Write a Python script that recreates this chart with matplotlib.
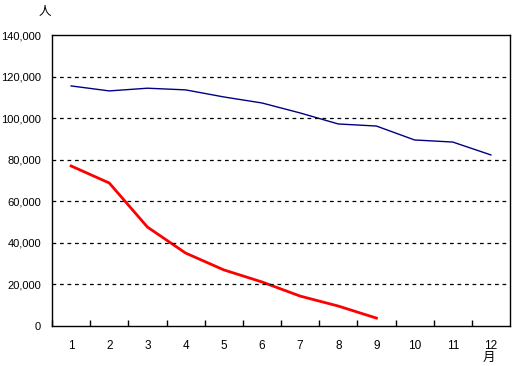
import matplotlib
matplotlib.use("Agg")
import matplotlib.pyplot as plt
import numpy as np

plt.rcParams['font.family'] = ['Noto Sans CJK JP', 'DejaVu Sans']

months = [1, 2, 3, 4, 5, 6, 7, 8, 9, 10, 11, 12]
blue_vals = [115500, 113100, 114400, 113600, 110200, 107300, 102500, 97200, 96200, 89500, 88500, 82300]
red_months = [1, 2, 3, 4, 5, 6, 7, 8, 9]
red_vals = [77000, 68800, 47600, 35100, 27000, 21200, 14400, 9600, 3800]
yticks = [0, 20000, 40000, 60000, 80000, 100000, 120000, 140000]

fig = plt.figure(figsize=(5.12, 3.66), dpi=100)
ax = fig.add_axes([52/512, 1-326/366, 458/512, 291/366])

ax.plot(months, blue_vals, color='#000080', lw=1.0)
ax.plot(red_months, red_vals, color='#ff0000', lw=2.0)

ax.set_xlim(0.5, 12.5)
ax.set_ylim(0, 140000)
ax.set_yticks(yticks)
ax.set_yticklabels([f"{v:,}" for v in yticks], fontsize=8, family='Liberation Sans')
ax.tick_params(axis='y', length=0, pad=8)
for v in yticks[1:-1]:
    ax.axhline(v, color='black', lw=0.9, ls=(0, (3, 3)))

ax.set_xticks(months)
ax.set_xticklabels([str(m) for m in months], fontsize=8.5, family='Liberation Sans')
ax.set_xticks(np.arange(0.5, 12.5, 1), minor=True)
ax.tick_params(axis='x', which='major', length=0, pad=10)
ax.tick_params(axis='x', which='minor', direction='in', length=4, width=1)

for s in ax.spines.values():
    s.set_linewidth(1.0)
    s.set_color('black')

fig.text(45/512, 1-11/366, "人", fontsize=9, ha='center', va='center')
fig.text(489/512, 1-357/366, "月", fontsize=9, ha='center', va='center')

fig.savefig("out.png", dpi=100)
